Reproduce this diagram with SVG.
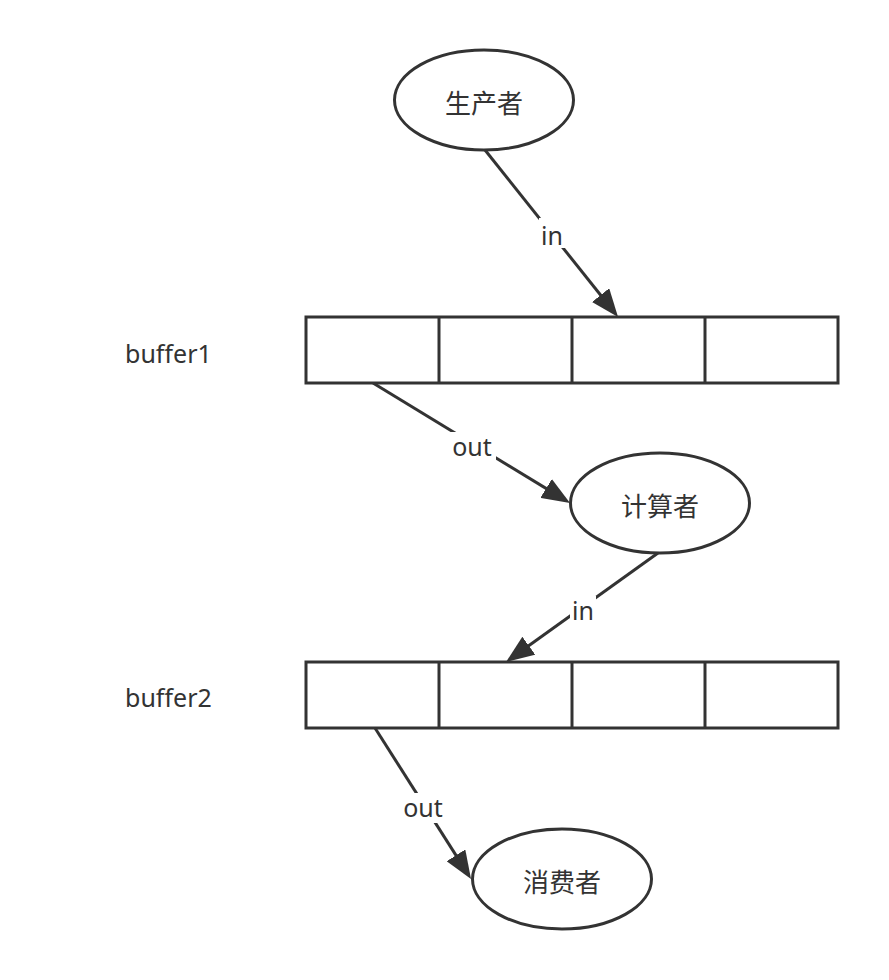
<svg xmlns="http://www.w3.org/2000/svg" width="889" height="980" viewBox="0 0 889 980">
<style>
.shape{fill:#ffffff;stroke:#333333;stroke-width:3}
.edge{fill:none;stroke:#333333;stroke-width:3}
.t{font-family:"Noto Sans","Noto Sans CJK SC",sans-serif;fill:#333333;font-size:25px}
.c{font-family:"Noto Sans CJK SC","Noto Sans",sans-serif;fill:#333333;font-size:26px;text-anchor:middle}
.lbl{font-family:"Noto Sans","Noto Sans CJK SC",sans-serif;fill:#333333;font-size:25px;text-anchor:middle}
.bg{fill:#ffffff}
</style>
<defs>
<marker id="arrow" markerUnits="userSpaceOnUse" markerWidth="28" markerHeight="22" viewBox="0 0 28 22" refX="22" refY="11" orient="auto">
<path d="M0,0 L28,11 L0,22 Z" fill="#333333"/>
</marker>
</defs>
<rect width="889" height="980" fill="#ffffff"/>
<g id="connectors">
<line class="edge" x1="485" y1="150" x2="614.3" y2="312.3" marker-end="url(#arrow)"/>
<line class="edge" x1="373" y1="383" x2="564.9" y2="499.9" marker-end="url(#arrow)"/>
<line class="edge" x1="658" y1="553" x2="510.9" y2="658.5" marker-end="url(#arrow)"/>
<line class="edge" x1="375" y1="728" x2="467.8" y2="873.9" marker-end="url(#arrow)"/>
<g id="label-in1"><rect class="bg" x="539" y="218" width="26" height="30"/><text class="lbl" x="552" y="245">in</text></g>
<g id="label-out1"><rect class="bg" x="449" y="432" width="47" height="30"/><text class="lbl" x="472" y="456">out</text></g>
<g id="label-in2"><rect class="bg" x="570" y="596" width="26" height="30"/><text class="lbl" x="583" y="620">in</text></g>
<g id="label-out2"><rect class="bg" x="400" y="793" width="47" height="30"/><text class="lbl" x="423" y="817">out</text></g>
</g>
<g id="producer">
<ellipse class="shape" cx="484" cy="100" rx="89.5" ry="50"/>
<text class="c" x="484" y="113">生产者</text>
</g>
<g id="buffer1-label"><text class="t" x="125" y="363">buffer1</text></g>
<g id="buffer1">
<rect class="shape" x="306" y="317" width="532" height="66"/>
<line class="edge" x1="439" y1="317" x2="439" y2="383"/>
<line class="edge" x1="572" y1="317" x2="572" y2="383"/>
<line class="edge" x1="705" y1="317" x2="705" y2="383"/>
</g>
<g id="calculator">
<ellipse class="shape" cx="660" cy="503" rx="89.5" ry="50"/>
<text class="c" x="660" y="516">计算者</text>
</g>
<g id="buffer2-label"><text class="t" x="125" y="707">buffer2</text></g>
<g id="buffer2">
<rect class="shape" x="306" y="662" width="532" height="66"/>
<line class="edge" x1="439" y1="662" x2="439" y2="728"/>
<line class="edge" x1="572" y1="662" x2="572" y2="728"/>
<line class="edge" x1="705" y1="662" x2="705" y2="728"/>
</g>
<g id="consumer">
<ellipse class="shape" cx="562" cy="879" rx="89.5" ry="50"/>
<text class="c" x="562" y="892">消费者</text>
</g>
</svg>
